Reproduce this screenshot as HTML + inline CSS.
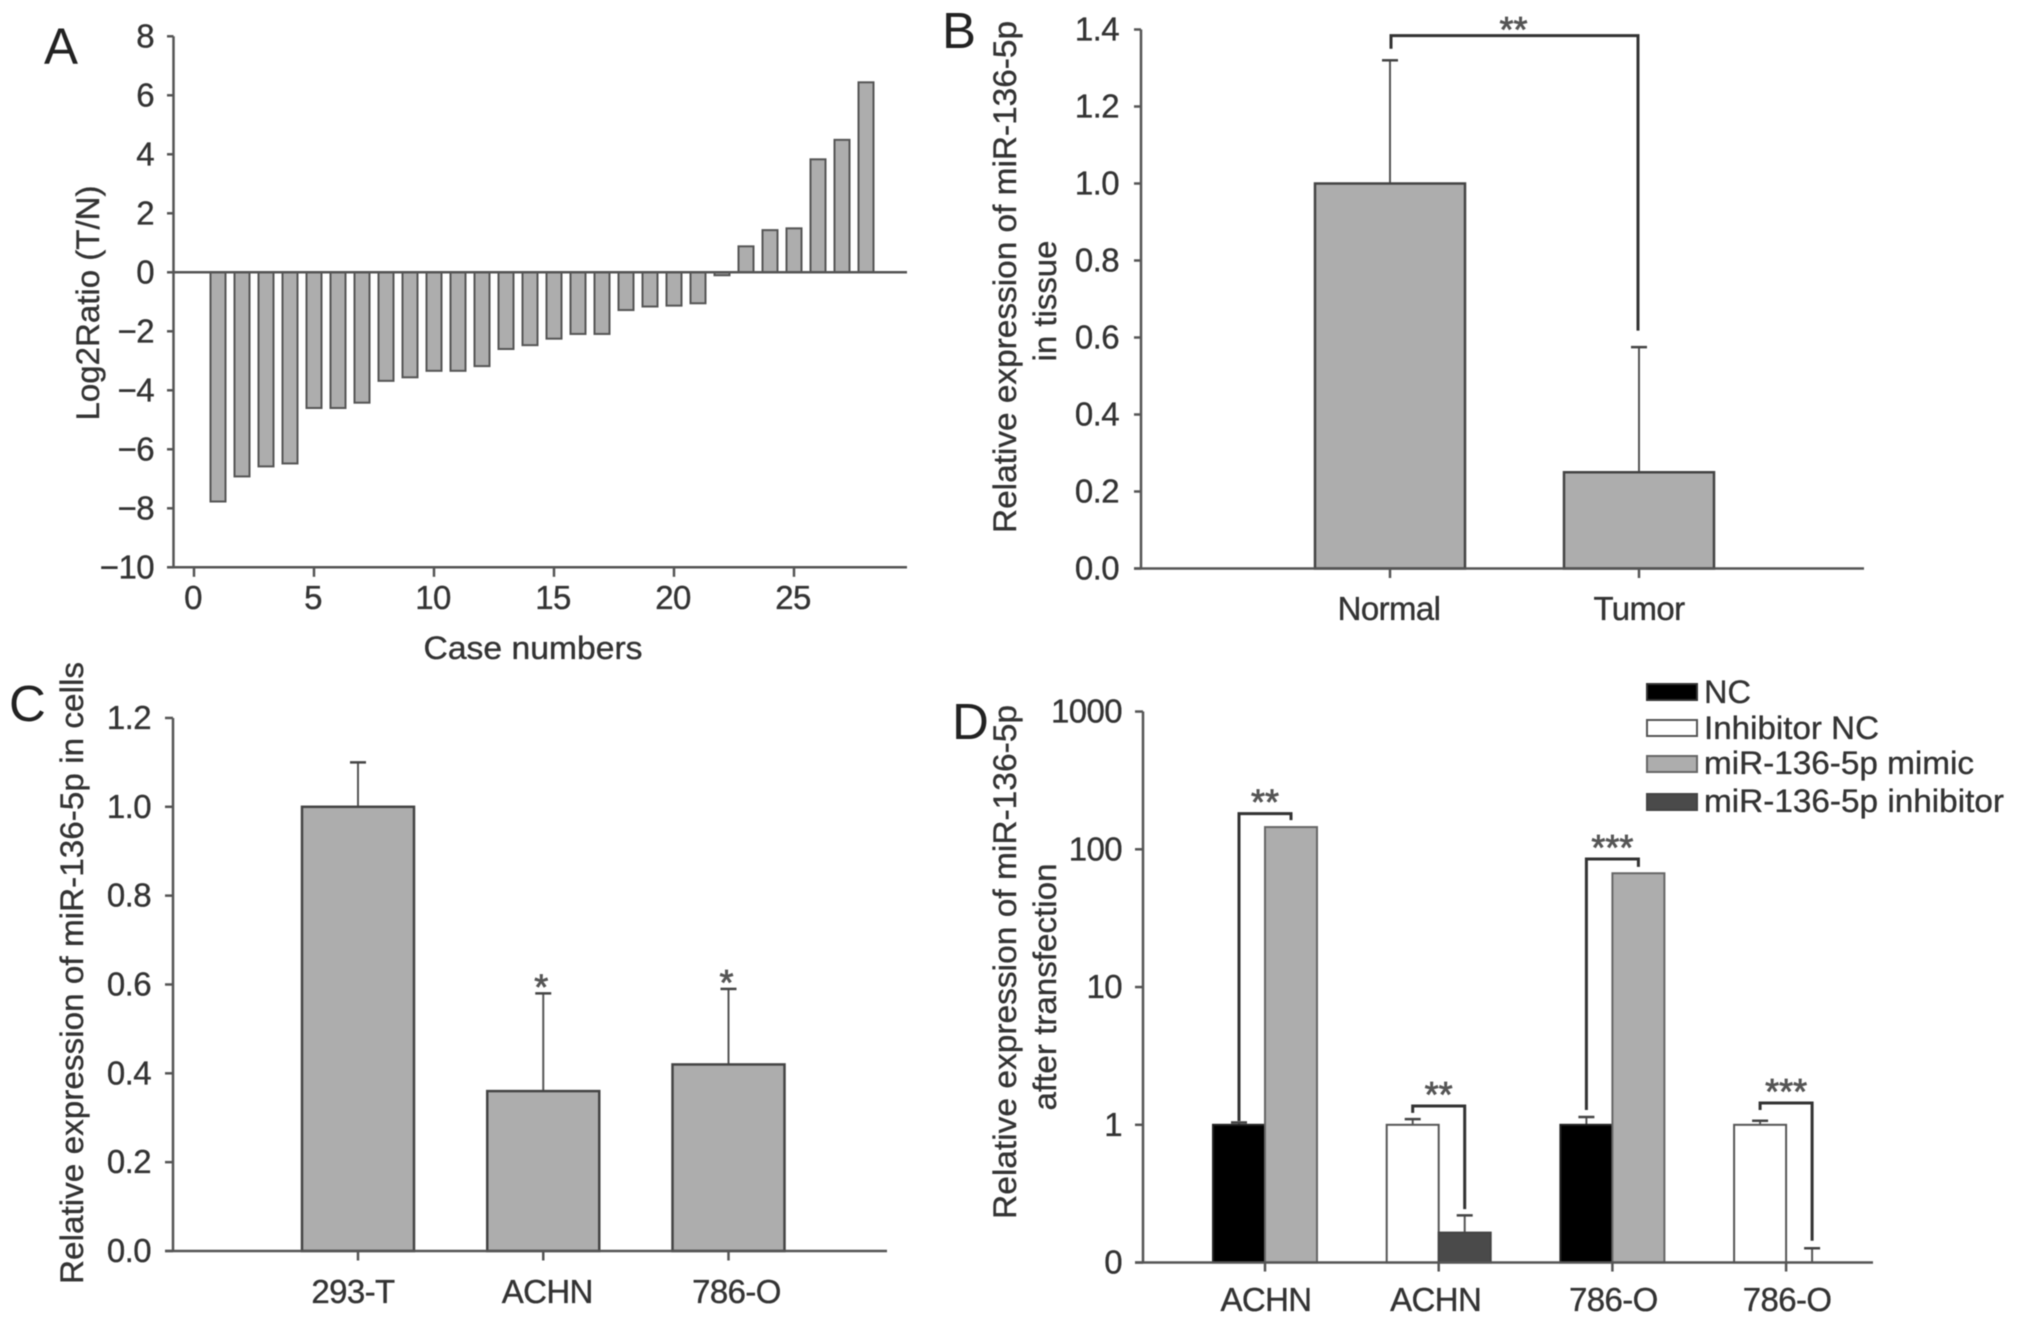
<!DOCTYPE html>
<html lang="en">
<head>
<meta charset="utf-8">
<title>miR-136-5p expression figure</title>
<style>
html,body{margin:0;padding:0;background:#fff;}
svg{display:block;filter:blur(0.5px);}
text{font-family:"Liberation Sans",sans-serif;fill:#333;stroke:#333;stroke-width:0.35px;}
.tick{font-size:33px;letter-spacing:-0.6px;}
.title{font-size:32px;}
.letter{font-size:51px;fill:#222;stroke:none;}
.star{font-size:36px;fill:#555;stroke:#555;stroke-width:0.8px;text-anchor:middle;}
.legend-text{font-size:32px;}
</style>
</head>
<body>
<svg id="fig" width="2032" height="1325" viewBox="0 0 2032 1325" xmlns="http://www.w3.org/2000/svg">
  <rect x="0" y="0" width="2032" height="1325" fill="#fff"/>

  <text class="letter" x="44" y="64">A</text>
  <text class="letter" x="942" y="48">B</text>
  <text class="letter" x="9" y="721">C</text>
  <text class="letter" x="952" y="739">D</text>

  <text class="title" text-anchor="middle" transform="translate(99,303) rotate(-90)" textLength="235" lengthAdjust="spacingAndGlyphs">Log2Ratio (T/N)</text>
  <text class="title" text-anchor="middle" x="533" y="659" textLength="219" lengthAdjust="spacingAndGlyphs">Case numbers</text>

  <text class="title" text-anchor="middle" transform="translate(1016,277) rotate(-90)" textLength="512" lengthAdjust="spacingAndGlyphs">Relative expression of miR-136-5p</text>
  <text class="title" text-anchor="middle" transform="translate(1056,301) rotate(-90)" textLength="121" lengthAdjust="spacingAndGlyphs">in tissue</text>

  <text class="title" text-anchor="middle" transform="translate(83,973) rotate(-90)" textLength="622" lengthAdjust="spacingAndGlyphs">Relative expression of miR-136-5p in cells</text>

  <text class="title" text-anchor="middle" transform="translate(1016,962) rotate(-90)" textLength="514" lengthAdjust="spacingAndGlyphs">Relative expression of miR-136-5p</text>
  <text class="title" text-anchor="middle" transform="translate(1056,987) rotate(-90)" textLength="247" lengthAdjust="spacingAndGlyphs">after transfection</text>

  <g>
    <rect x="1647" y="684" width="50" height="16" fill="#000" stroke="#333" stroke-width="2"/>
    <text class="legend-text" x="1704" y="703" textLength="47" lengthAdjust="spacingAndGlyphs">NC</text>
    <rect x="1647" y="720" width="50" height="16" fill="#fff" stroke="#555" stroke-width="2"/>
    <text class="legend-text" x="1704" y="739" textLength="175" lengthAdjust="spacingAndGlyphs">Inhibitor NC</text>
    <rect x="1647" y="756" width="50" height="16" fill="#adadad" stroke="#666" stroke-width="2"/>
    <text class="legend-text" x="1704" y="774" textLength="270" lengthAdjust="spacingAndGlyphs">miR-136-5p mimic</text>
    <rect x="1647" y="794" width="50" height="16" fill="#4a4a4a" stroke="#444" stroke-width="2"/>
    <text class="legend-text" x="1704" y="812" textLength="300" lengthAdjust="spacingAndGlyphs">miR-136-5p inhibitor</text>
  </g>
</svg>

<script>
// Panel A data
const aCases = [1,2,3,4,5,6,7,8,9,10,11,12,13,14,15,16,17,18,19,20,21,22,23,24,25,26,27,28];
const aValues = [-7.77,-6.92,-6.58,-6.48,-4.6,-4.6,-4.42,-3.68,-3.56,-3.34,-3.34,-3.18,-2.6,-2.47,-2.25,-2.09,-2.09,-1.28,-1.16,-1.13,-1.05,-0.1,0.88,1.43,1.49,3.83,4.49,6.44];
const aYTicks = [8,6,4,2,0,-2,-4,-6,-8,-10];
const aYLabels = ['8','6','4','2','0','\u22122','\u22124','\u22126','\u22128','\u221210'];
const aXTicks = [0,5,10,15,20,25];

// Panel B data
const bCategories = ['Normal','Tumor'];
const bValues = [1.0,0.25];
const bErrorTops = [1.32,0.575];
const bYTicks = [0,0.2,0.4,0.6,0.8,1.0,1.2,1.4];
const bYLabels = ['0.0','0.2','0.4','0.6','0.8','1.0','1.2','1.4'];
const bBracketStart = 1.35;
const bBracketTop = 1.384;
const bBracketEnd = 0.618;

// Panel C data
const cCategories = ['293-T','ACHN','786-O'];
const cValues = [1.0,0.36,0.42];
const cErrorTops = [1.1,0.58,0.59];
const cStars = ['','*','*'];
const cYTicks = [0,0.2,0.4,0.6,0.8,1.0,1.2];
const cYLabels = ['0.0','0.2','0.4','0.6','0.8','1.0','1.2'];

// Panel D data
const dCategories = ['ACHN','ACHN','786-O','786-O'];
const dLeftSeriesNames = ['NC','Inhibitor NC','NC','Inhibitor NC'];
const dRightSeriesNames = ['miR-136-5p mimic','miR-136-5p inhibitor','miR-136-5p mimic','miR-136-5p inhibitor'];
const dLeftValues = [1,1,1,1];
const dRightValues = [145,0.165,67,0.1];
const dLeftErrorTops = [1.04,1.1,1.14,1.07];
const dRightErrorTops = [null,0.22,null,0.127];
const dYTicks = [0.1,1,10,100,1000];
const dYLabels = ['0','1','10','100','1000'];
const dBracketStarts = [1.065,1.22,1.28,1.28];
const dBracketTops = [181.6,1.37,85,1.44];
const dBracketEnds = [163,0.244,74.5,0.144];
const dStars = ['**','**','***','***'];

const svg = document.getElementById('fig');
const NS = 'http://www.w3.org/2000/svg';

function mk(tag, attrs, name, parent) {
  const el = document.createElementNS(NS, tag);
  for (const k in attrs) el.setAttribute(k, attrs[k]);
  
  
  (parent || svg).appendChild(el);
  return el;
}
function line(x1, y1, x2, y2, stroke, w, name, parent) {
  return mk('line', {x1:x1, y1:y1, x2:x2, y2:y2, stroke:stroke, 'stroke-width':w}, name, parent);
}
function txt(s, x, y, cls, anchor, name, parent) {
  const t = mk('text', {x:x, y:y, class:cls, 'text-anchor':anchor}, name, parent);
  t.textContent = s;
  return t;
}
function star(s, x, yCenter, name, parent) {
  const t = mk('text', {x:x, y:yCenter + 21, class:'star'}, name, parent);
  t.textContent = s;
  return t;
}
function bar(x, w, y0, y1, fill, stroke, sw, name, parent) {
  const top = Math.min(y0, y1), h = Math.abs(y1 - y0);
  return mk('rect', {x:x, y:top, width:w, height:h, fill:fill, stroke:stroke, 'stroke-width':sw}, name, parent);
}
function errorBar(x, yFrom, yTo, cap, name, parent) {
  line(x, yFrom, x, yTo, '#555', 2, name + '-stem', parent);
  line(x - cap, yTo, x + cap, yTo, '#444', 2.5, name + '-cap', parent);
}
function bracket(xl, yStart, yTop, xr, yEnd, name, parent) {
  const d = 'M' + xl + ' ' + yStart + 'L' + xl + ' ' + yTop + 'L' + xr + ' ' + yTop + 'L' + xr + ' ' + yEnd;
  return mk('path', {d:d, fill:'none', stroke:'#333', 'stroke-width':3}, name, parent);
}

// ---------- Panel A ----------
(function () {
  const g = mk('g', {}, 'panel-a-case-ratio-chart');
  const ax = v => 194 + v * 24;
  const ay = v => 272.3 - v * 29.5;
  line(173.5, ay(8), 173.5, ay(-10), '#555', 2.5, 'panel-a-y-axis', g);
  line(167, ay(-10), 907, ay(-10), '#555', 2.5, 'panel-a-x-axis', g);
  aYTicks.forEach((v, i) => {
    line(167, ay(v), 173.5, ay(v), '#555', 2.5, 'panel-a-y-tick', g);
    txt(aYLabels[i], 154, ay(v) + 11, 'tick', 'end', 'panel-a-y-tick-label', g);
  });
  aXTicks.forEach(v => {
    line(ax(v), ay(-10), ax(v), ay(-10) + 9.5, '#555', 2.5, 'panel-a-x-tick', g);
    txt(String(v), ax(v) - 1, 609, 'tick', 'middle', 'panel-a-x-tick-label', g);
  });
  aValues.forEach((v, i) => {
    bar(ax(aCases[i]) - 7.5, 15, ay(0), ay(v), '#adadad', '#555', 2, 'panel-a-bar-case-' + aCases[i], g);
  });
  line(173.5, ay(0), 907, ay(0), '#555', 2.5, 'panel-a-zero-line', g);
})();

// ---------- Panel B ----------
(function () {
  const g = mk('g', {}, 'panel-b-tissue-chart');
  const bx = i => 1390 + i * 249;
  const by = v => 568.5 - v * 385;
  line(1141, by(1.4), 1141, by(0), '#555', 2.5, 'panel-b-y-axis', g);
  bYTicks.forEach((v, i) => {
    line(1134, by(v), 1141, by(v), '#555', 2.5, 'panel-b-y-tick', g);
    txt(bYLabels[i], 1119, by(v) + 11, 'tick', 'end', 'panel-b-y-tick-label', g);
  });
  bCategories.forEach((c, i) => {
    errorBar(bx(i), by(bValues[i]), by(bErrorTops[i]), 8, 'panel-b-error-' + c.toLowerCase(), g);
    bar(bx(i) - 75, 150, by(0), by(bValues[i]), '#adadad', '#444', 2.5, 'panel-b-bar-' + c.toLowerCase(), g);
    line(bx(i), by(0), bx(i), by(0) + 9.5, '#555', 2.5, 'panel-b-x-tick', g);
    txt(c, bx(i) + (i ? 0 : -1), 620, 'tick', 'middle', 'panel-b-x-tick-label', g);
  });
  line(1134, by(0), 1864, by(0), '#555', 2.5, 'panel-b-x-axis', g);
  bracket(bx(0) + 1, by(bBracketStart), by(bBracketTop), bx(1) - 1, by(bBracketEnd), 'panel-b-significance-bracket', g);
  star('**', (bx(0) + bx(1)) / 2 - 1, 21, 'panel-b-significance-stars', g);
})();

// ---------- Panel C ----------
(function () {
  const g = mk('g', {}, 'panel-c-cells-chart');
  const cx = i => 358 + i * 185.25;
  const cy = v => 1251 - v * 444.2;
  line(173, cy(1.2), 173, cy(0), '#555', 2.5, 'panel-c-y-axis', g);
  cYTicks.forEach((v, i) => {
    line(165, cy(v), 173, cy(v), '#555', 2.5, 'panel-c-y-tick', g);
    txt(cYLabels[i], 151, cy(v) + 11, 'tick', 'end', 'panel-c-y-tick-label', g);
  });
  cCategories.forEach((c, i) => {
    errorBar(cx(i), cy(cValues[i]), cy(cErrorTops[i]), 8, 'panel-c-error-' + c.toLowerCase(), g);
    bar(cx(i) - 56, 112, cy(0), cy(cValues[i]), '#adadad', '#444', 2.5, 'panel-c-bar-' + c.toLowerCase(), g);
    line(cx(i), cy(0), cx(i), cy(0) + 9.5, '#555', 2.5, 'panel-c-x-tick', g);
    txt(c, cx(i) + (i === 0 ? -5 : (i === 1 ? 4 : 8)), 1303, 'tick', 'middle', 'panel-c-x-tick-label', g);
    if (cStars[i]) {
      star(cStars[i], cx(i) - 2, cy(cErrorTops[i]) - 15, 'panel-c-significance-star', g);
    }
  });
  line(165, cy(0), 887, cy(0), '#555', 2.5, 'panel-c-x-axis', g);
})();

// ---------- Panel D ----------
(function () {
  const g = mk('g', {}, 'panel-d-transfection-chart');
  const dx = i => 1265 + i * 173.7;
  const dy = v => 1124.8 - Math.log10(v) * 137.75;
  const fills = {'NC':'#000','Inhibitor NC':'#fff','miR-136-5p mimic':'#adadad','miR-136-5p inhibitor':'#4a4a4a'};
  const strokes = {'NC':'#222','Inhibitor NC':'#555','miR-136-5p mimic':'#666','miR-136-5p inhibitor':'#444'};
  line(1143, dy(1000), 1143, dy(0.1), '#555', 2.5, 'panel-d-y-axis', g);
  dYTicks.forEach((v, i) => {
    line(1135, dy(v), 1143, dy(v), '#555', 2.5, 'panel-d-y-tick', g);
    txt(dYLabels[i], 1122, dy(v) + 11, 'tick', 'end', 'panel-d-y-tick-label', g);
  });
  dCategories.forEach((c, i) => {
    const ln = dLeftSeriesNames[i], rn = dRightSeriesNames[i];
    const lc = dx(i) - 26, rc = dx(i) + 26;
    errorBar(lc, dy(dLeftValues[i]), dy(dLeftErrorTops[i]), 8, 'panel-d-error-left-' + i, g);
    if (dRightErrorTops[i] !== null) {
      errorBar(rc, dy(dRightValues[i]), dy(dRightErrorTops[i]), 8, 'panel-d-error-right-' + i, g);
    }
    bar(dx(i) - 52, 52, dy(0.1), dy(dLeftValues[i]), fills[ln], strokes[ln], 2, 'panel-d-bar-left-' + i, g);
    bar(dx(i), 52, dy(0.1), dy(dRightValues[i]), fills[rn], strokes[rn], 2, 'panel-d-bar-right-' + i, g);
    line(dx(i), dy(0.1), dx(i), dy(0.1) + 9, '#555', 2.5, 'panel-d-x-tick', g);
    txt(c, dx(i) + (i === 1 ? -3 : 1), 1311, 'tick', 'middle', 'panel-d-x-tick-label', g);
    bracket(lc, dy(dBracketStarts[i]), dy(dBracketTops[i]), rc, dy(dBracketEnds[i]), 'panel-d-significance-bracket', g);
    star(dStars[i], dx(i), dy(dBracketTops[i]) - 20, 'panel-d-significance-stars', g);
  });
  line(1135, dy(0.1), 1873, dy(0.1), '#555', 2.5, 'panel-d-x-axis', g);
})();
</script>
</body>
</html>
